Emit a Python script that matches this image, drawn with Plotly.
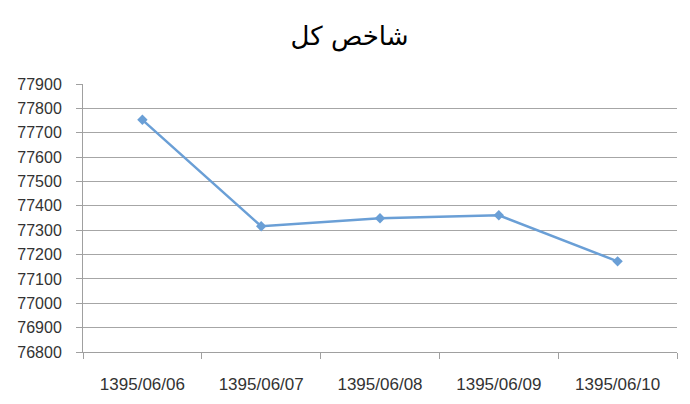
import plotly.graph_objects as go

categories = ["1395/06/06", "1395/06/07", "1395/06/08", "1395/06/09", "1395/06/10"]
values = [77753, 77316, 77349, 77361, 77172]
title_text = "شاخص کل"

fig = go.Figure()
fig.add_trace(go.Scatter(
    x=categories, y=values, mode="lines+markers",
    line=dict(color="#6a9fd6", width=2.5),
    marker=dict(symbol="diamond", size=8, color="#6a9fd6"),
    showlegend=False,
))

fig.update_layout(
    width=690, height=404,
    margin=dict(l=75, r=21, t=76, b=60),
    paper_bgcolor="white", plot_bgcolor="white",
    title=dict(text=title_text, x=0.495, xanchor="center", y=0.93, yanchor="middle",
               font=dict(family="DejaVu Sans, Noto Sans", size=26, color="black")),
    font=dict(family="Liberation Sans, Arial", size=16, color="#333333"),
)
fig.update_xaxes(
    type="category", range=[-0.5, 4.5], tickson="boundaries",
    ticks="outside", ticklen=6, tickcolor="#a0a0a0",
    showline=True, linecolor="#a0a0a0", linewidth=1,
    showgrid=False, ticklabelstandoff=17, automargin=False,
    tickfont=dict(size=17, color="#333333"),
)
fig.update_yaxes(
    range=[76800, 77900], dtick=100, tick0=76800, tickformat="d",
    showgrid=True, gridcolor="#a6a6a6", gridwidth=1,
    showline=True, linecolor="#a0a0a0", linewidth=1,
    ticks="outside", ticklen=6, tickcolor="#a0a0a0",
    ticklabelstandoff=11, automargin=False,
    zeroline=False, tickfont=dict(size=16, color="#333333"),
)
fig.write_html("out.html")
